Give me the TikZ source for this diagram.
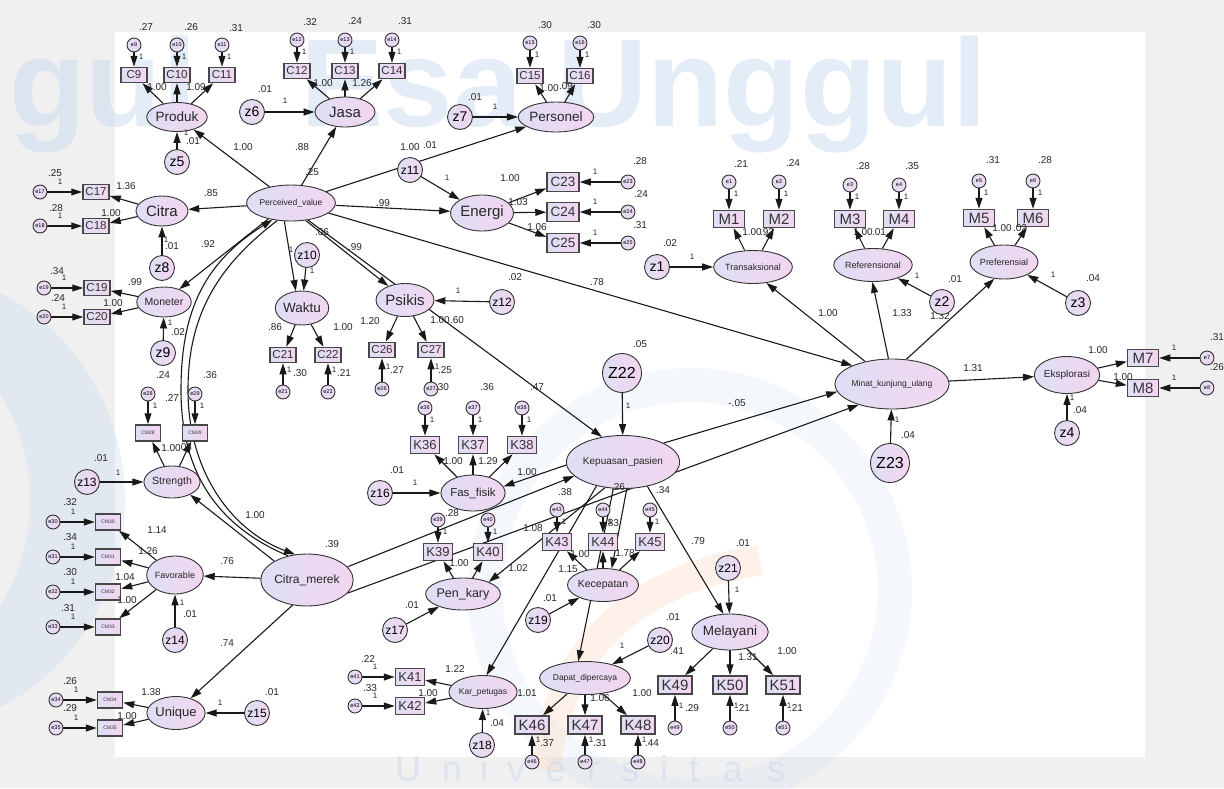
\documentclass[tikz,border=0pt]{standalone}
\usepackage{fontspec}
\setmainfont{Liberation Sans}
\usetikzlibrary{shapes.geometric,arrows.meta}
\pgfdeclarelayer{bgl}
\pgfdeclarelayer{edges}
\pgfsetlayers{bgl,edges,main}
\definecolor{latL}{RGB}{222,222,244}
\definecolor{latR}{RGB}{243,214,240}
\definecolor{paper}{RGB}{240,240,240}
\definecolor{wmblue}{RGB}{196,214,238}
\definecolor{wmorange}{RGB}{250,222,200}
\begin{document}
\begin{tikzpicture}[x=1pt,y=-1pt,
  lat/.style={ellipse, draw=black!80, line width=0.9pt, left color=latL, right color=latR, inner sep=0pt, text=black!85},
  obs/.style={rectangle, draw=black!72, line width=1.5pt, left color=latL, right color=latR, inner sep=0pt, text=black!80},
  cbox/.style={obs, minimum width=26pt, minimum height=15pt, font=\fontsize{11.5}{11.5}\selectfont},
  ebox/.style={obs, minimum width=32pt, minimum height=19pt, font=\fontsize{13.5}{13.5}\selectfont},
  kbox/.style={obs, minimum width=29pt, minimum height=17pt, font=\fontsize{13}{13}\selectfont},
  mbox/.style={obs, minimum width=31pt, minimum height=17pt, font=\fontsize{15}{15}\selectfont},
  bbox/.style={obs, minimum width=34pt, minimum height=18pt, font=\fontsize{15}{15}\selectfont},
  cmbox/.style={obs, minimum width=25pt, minimum height=16pt, font=\fontsize{5}{5}\selectfont},
  err/.style={circle, draw=black!80, line width=0.9pt, left color=latL, right color=latR, inner sep=0pt, minimum size=14pt, font=\fontsize{5.5}{5.5}\selectfont},
  dst/.style={circle, draw=black!80, line width=0.9pt, left color=latL, right color=latR, inner sep=0pt, minimum size=25pt, font=\fontsize{14}{14}\selectfont},
  dst3/.style={dst, font=\fontsize{12}{12}\selectfont},
  big/.style={dst, minimum size=39pt, font=\fontsize{16}{16}\selectfont},
  val/.style={inner sep=0pt, font=\fontsize{10}{10}\selectfont, text=black!85},
  one/.style={inner sep=0pt, font=\fontsize{8}{8}\selectfont, text=black!85},
  pth/.style={draw=black!90, line width=1.1pt, -{Triangle[length=11pt,width=7pt]}},
  wm/.style={inner sep=0pt, text=wmblue, opacity=0.45}
]
\useasboundingbox (0,0) rectangle (1224,788);

% ---------- page and watermark ----------
\begin{pgfonlayer}{bgl}
  \fill[paper] (0,0) rectangle (1224,788);
  \fill[white] (115,32) rectangle (1145,757);
  \begin{scope}
    \clip (0,0) rectangle (1224,788);
    \fill[wmblue, opacity=0.3] (-110,500) circle (235);
    \fill[paper] (-170,500) circle (200);
    \draw[wmblue, opacity=0.18, line width=34pt] (690,590) circle (205);
    \draw[wmorange, opacity=0.4, line width=30pt] (545,770) .. controls (560,640) and (640,580) .. (760,560);
  \end{scope}
  \node[wm, anchor=base west, font=\fontsize{125}{125}\bfseries\selectfont] (wmA) at (300,126) {Esa Unggul};
  \node[wm, anchor=base east, font=\fontsize{125}{125}\bfseries\selectfont] (wmB) at (197,126) {gul};
  \foreach \c/\x [count=\i] in {U/408,n/452,i/484,v/516,e/556,r/593,s/630,i/664,t/694,a/733,s/776}
    \node[wm, anchor=base, font=\fontsize{36}{36}\selectfont] (wu\i) at (\x,781) {\c};
\end{pgfonlayer}

% ---------- latent variables ----------
\node[lat, minimum width=78pt, minimum height=36pt, font=\fontsize{8.5}{8.5}\selectfont] (PV) at (291,203) {Perceived\_value};
\node[lat, minimum width=53pt, minimum height=29pt, font=\fontsize{13.5}{13.5}\selectfont] (Produk) at (177,117) {Produk};
\node[lat, minimum width=60pt, minimum height=30pt, font=\fontsize{15}{15}\selectfont] (Jasa) at (345,112) {Jasa};
\node[lat, minimum width=62pt, minimum height=30pt, font=\fontsize{13.5}{13.5}\selectfont] (Personel) at (556,117) {Personel};
\node[lat, minimum width=52pt, minimum height=30pt, font=\fontsize{15}{15}\selectfont] (Citra) at (162,211) {Citra};
\node[lat, minimum width=48pt, minimum height=30pt, font=\fontsize{10.5}{10.5}\selectfont] (Moneter) at (164,302) {Moneter};
\node[lat, minimum width=63pt, minimum height=36pt, font=\fontsize{15}{15}\selectfont] (Energi) at (482,213) {Energi};
\node[lat, minimum width=53pt, minimum height=34pt, font=\fontsize{13.5}{13.5}\selectfont] (Waktu) at (302,308) {Waktu};
\node[lat, minimum width=58pt, minimum height=33pt, font=\fontsize{15}{15}\selectfont] (Psikis) at (405,300) {Psikis};
\node[lat, minimum width=54pt, minimum height=32pt, font=\fontsize{10.5}{10.5}\selectfont] (Strength) at (172,482) {Strength};
\node[lat, minimum width=78pt, minimum height=52pt, font=\fontsize{12}{12}\selectfont] (CitraM) at (307,580) {Citra\_merek};
\node[lat, minimum width=48pt, minimum height=38pt, font=\fontsize{9}{9}\selectfont] (Favorable) at (175,575) {Favorable};
\node[lat, minimum width=48pt, minimum height=33pt, font=\fontsize{13}{13}\selectfont] (Unique) at (176,713) {Unique};
\node[lat, minimum width=95pt, minimum height=53pt, font=\fontsize{10}{10}\selectfont] (Kep) at (623,462) {Kepuasan\_pasien};
\node[lat, minimum width=58pt, minimum height=36pt, font=\fontsize{11.5}{11.5}\selectfont] (FasF) at (473,493) {Fas\_fisik};
\node[lat, minimum width=62pt, minimum height=32pt, font=\fontsize{12.5}{12.5}\selectfont] (PenK) at (463,594) {Pen\_kary};
\node[lat, minimum width=58pt, minimum height=33pt, font=\fontsize{10.5}{10.5}\selectfont] (Kec) at (603,585) {Kecepatan};
\node[lat, minimum width=57pt, minimum height=33pt, font=\fontsize{8.5}{8.5}\selectfont] (KarP) at (483,692) {Kar\_petugas};
\node[lat, minimum width=68pt, minimum height=33pt, font=\fontsize{8.5}{8.5}\selectfont] (Dapat) at (585,678) {Dapat\_dipercaya};
\node[lat, minimum width=70pt, minimum height=36pt, font=\fontsize{13.5}{13.5}\selectfont] (Melayani) at (730,632) {Melayani};
\node[lat, minimum width=95pt, minimum height=50pt, font=\fontsize{8.5}{8.5}\selectfont] (Minat) at (892,384) {Minat\_kunjung\_ulang};
\node[lat, minimum width=63pt, minimum height=33pt, font=\fontsize{9}{9}\selectfont] (Trans) at (753,267) {Transaksional};
\node[lat, minimum width=63pt, minimum height=33pt, font=\fontsize{9}{9}\selectfont] (Ref) at (873,265) {Referensional};
\node[lat, minimum width=60pt, minimum height=34pt, font=\fontsize{9}{9}\selectfont] (Pref) at (1004,262) {Preferensial};
\node[lat, minimum width=57pt, minimum height=37pt, font=\fontsize{10}{10}\selectfont] (Eks) at (1067,375) {Eksplorasi};

% ---------- indicators and their error terms ----------
\foreach \n/\x in {9/134,10/177,11/222} {\node[cbox] (C\n) at (\x,75) {C\n}; \node[err] (e\n) at (\x,45) {e\n};}
\foreach \n/\x in {12/297,13/345,14/392} {\node[cbox] (C\n) at (\x,71) {C\n}; \node[err] (e\n) at (\x,40) {e\n};}
\foreach \n/\x in {15/530,16/580} {\node[cbox] (C\n) at (\x,76) {C\n}; \node[err] (e\n) at (\x,43) {e\n};}
\foreach \n/\y in {17/192,18/226} {\node[cbox] (C\n) at (96,\y) {C\n}; \node[err] (e\n) at (40,\y) {e\n};}
\foreach \n/\y in {19/288,20/317} {\node[cbox] (C\n) at (97,\y) {C\n}; \node[err] (e\n) at (44,\y) {e\n};}
\foreach \n/\x in {21/283,22/328} {\node[cbox] (C\n) at (\x,355) {C\n}; \node[err] (e\n) at (\x,392) {e\n};}
\foreach \n/\y in {23/182,24/212,25/243} {\node[ebox] (C\n) at (563,\y) {C\n}; \node[err] (e\n) at (628,\y) {e\n};}
\foreach \n/\x in {26/382,27/431} {\node[cbox] (C\n) at (\x,350) {C\n}; \node[err] (e\n) at (\x,389) {e\n};}
\foreach \n/\x in {28/148,29/195} {\node[cmbox] (CM\n) at (\x,433) {CM\n}; \node[err] (e\n) at (\x,394) {e\n};}
\foreach \n/\y in {30/522,31/557,32/592,33/627} {\node[cmbox] (CM\n) at (108,\y) {CM\n}; \node[err] (e\n) at (53,\y) {e\n};}
\foreach \n/\y in {34/700,35/728} {\node[cmbox] (CM\n) at (110,\y) {CM\n}; \node[err] (e\n) at (56,\y) {e\n};}
\foreach \n/\x in {36/425,37/473,38/522} {\node[kbox] (K\n) at (\x,445) {K\n}; \node[err] (e\n) at (\x,408) {e\n};}
\foreach \n/\x in {39/438,40/488} {\node[kbox] (K\n) at (\x,552) {K\n}; \node[err] (e\n) at (\x,520) {e\n};}
\foreach \n/\y in {41/677,42/706} {\node[kbox] (K\n) at (410,\y) {K\n}; \node[err] (e\n) at (355,\y) {e\n};}
\foreach \n/\x in {43/557,44/603,45/650} {\node[kbox] (K\n) at (\x,542) {K\n}; \node[err] (e\n) at (\x,510) {e\n};}
\foreach \n/\x in {46/532,47/585,48/638} {\node[bbox] (K\n) at (\x,725) {K\n}; \node[err] (e\n) at (\x,762) {e\n};}
\foreach \n/\x in {49/675,50/730,51/783} {\node[bbox] (K\n) at (\x,685) {K\n}; \node[err] (e\n) at (\x,728) {e\n};}
\foreach \n/\x in {1/729,2/779} {\node[mbox] (M\n) at (\x,219) {M\n}; \node[err] (e\n) at (\x,182) {e\n};}
\foreach \n/\x in {3/850,4/899} {\node[mbox] (M\n) at (\x,219) {M\n}; \node[err] (e\n) at (\x,185) {e\n};}
\foreach \n/\x in {5/979,6/1033} {\node[mbox] (M\n) at (\x,218) {M\n}; \node[err] (e\n) at (\x,181) {e\n};}
\foreach \n/\y in {7/358,8/388} {\node[mbox] (M\n) at (1143,\y) {M\n}; \node[err] (e\n) at (1207,\y) {e\n};}

% ---------- disturbances ----------
\foreach \n/\x/\y in {z1/657/267, z2/942/302, z3/1078/303, z4/1067/433, z5/177/162, z6/252/112, z7/460/117, z8/162/268, z9/163/353}
  \node[dst] (\n) at (\x,\y) {\n};
\foreach \n/\x/\y in {z10/307/255, z11/410/170, z12/502/302, z13/87/482, z14/175/640, z15/257/713, z16/380/493, z17/395/630, z18/482/745, z19/538/620, z20/660/640, z21/728/568}
  \node[dst3] (\n) at (\x,\y) {\n};
\node[big] (Z22) at (622,373) {Z22};
\node[big] (Z23) at (890,463) {Z23};

% ---------- connectors ----------
\begin{pgfonlayer}{edges}
  % error terms to indicators
  \foreach \n in {9,...,27} \draw[pth] (e\n) -- (C\n);
  \foreach \n in {28,...,35} \draw[pth] (e\n) -- (CM\n);
  \foreach \n in {36,...,51} \draw[pth] (e\n) -- (K\n);
  \foreach \n in {1,...,8} \draw[pth] (e\n) -- (M\n);
  % factor loadings
  \foreach \n in {9,10,11} \draw[pth] (Produk) -- (C\n);
  \foreach \n in {12,13,14} \draw[pth] (Jasa) -- (C\n);
  \foreach \n in {15,16} \draw[pth] (Personel) -- (C\n);
  \foreach \n in {17,18} \draw[pth] (Citra) -- (C\n);
  \foreach \n in {19,20} \draw[pth] (Moneter) -- (C\n);
  \foreach \n in {21,22} \draw[pth] (Waktu) -- (C\n);
  \foreach \n in {23,24,25} \draw[pth] (Energi) -- (C\n);
  \foreach \n in {26,27} \draw[pth] (Psikis) -- (C\n);
  \foreach \n in {28,29} \draw[pth] (Strength) -- (CM\n);
  \foreach \n in {30,...,33} \draw[pth] (Favorable) -- (CM\n);
  \foreach \n in {34,35} \draw[pth] (Unique) -- (CM\n);
  \foreach \n in {36,37,38} \draw[pth] (FasF) -- (K\n);
  \foreach \n in {39,40} \draw[pth] (PenK) -- (K\n);
  \foreach \n in {41,42} \draw[pth] (KarP) -- (K\n);
  \foreach \n in {43,44,45} \draw[pth] (Kec) -- (K\n);
  \foreach \n in {46,47,48} \draw[pth] (Dapat) -- (K\n);
  \foreach \n in {49,50,51} \draw[pth] (Melayani) -- (K\n);
  \foreach \n in {1,2} \draw[pth] (Trans) -- (M\n);
  \foreach \n in {3,4} \draw[pth] (Ref) -- (M\n);
  \foreach \n in {5,6} \draw[pth] (Pref) -- (M\n);
  \foreach \n in {7,8} \draw[pth] (Eks) -- (M\n);
  % disturbances
  \foreach \z/\l in {z5/Produk, z6/Jasa, z7/Personel, z8/Citra, z9/Moneter, z10/Waktu, z11/Energi, z12/Psikis, z13/Strength, z14/Favorable, z15/Unique, z16/FasF, z17/PenK, z18/KarP, z19/Kec, z20/Dapat, z21/Melayani, Z22/Kep, Z23/Minat, z1/Trans, z2/Ref, z3/Pref, z4/Eks}
    \draw[pth] (\z) -- (\l);
  % Perceived value dimensions
  \draw[pth] (PV) -- (Produk);
  \draw[pth] (PV) -- (Jasa);
  \draw[pth] (PV) -- (Personel);
  \draw[pth] (PV) -- (Citra);
  \draw[pth] (PV.215) -- (Moneter.40);
  \draw[pth] (PV) -- (Energi);
  \draw[pth] (PV.250) -- (Waktu.110);
  \draw[pth] (PV.-50) -- (Psikis.140);
  % brand image dimensions
  \draw[pth] (CitraM.150) -- (Strength.-35);
  \draw[pth] (CitraM) -- (Favorable);
  \draw[pth] (CitraM.-120) -- (Unique.45);
  % satisfaction dimensions
  \draw[pth] (Kep.183) -- (FasF.12);
  \draw[pth] (Kep.235) -- (PenK.25);
  \draw[pth] (Kep.-82) -- (Kec.62);
  \draw[pth] (Kep.222) -- (KarP.78);
  \draw[pth] (Kep.250) -- (Dapat.112);
  \draw[pth] (Kep.-45) -- (Melayani.110);
  % revisit intention dimensions
  \draw[pth] (Minat.140) -- (Trans.-50);
  \draw[pth] (Minat.98) -- (Ref.-92);
  \draw[pth] (Minat.60) -- (Pref.-120);
  \draw[pth] (Minat) -- (Eks);
  % structural paths
  \draw[pth] (PV.-45) -- (Kep.130);
  \draw[pth] (PV.-15) -- (Minat.155);
  \draw[pth] (CitraM.18) -- (Kep.196);
  \draw[pth] (CitraM.-18) -- (Minat.212);
  \draw[pth] (Kep.25) -- (Minat.188);
  % covariance between the exogenous constructs
  \draw[pth] (CitraM.128) .. controls (215,525) and (181,470) .. (181,390) .. controls (181,310) and (205,262) .. (PV.222);
  \draw[pth] (PV.232) .. controls (215,268) and (188,318) .. (188,390) .. controls (188,470) and (230,530) .. (CitraM.115);
  \node[val] (hid) at (940,316) {1.32};
\end{pgfonlayer}

% ---------- estimates ----------
\foreach \t/\x/\y [count=\i] in {.27/146/27, .26/191/27, .31/236/28, 1.00/157/87, 1.09/196/87, .01/193/141, 1.00/243/147, .88/302/147, .25/312/172, .85/211/193, .92/208/244, .32/310/22, .24/355/21, .31/405/21, 1.00/323/83, 1.26/362/83, .01/265/89, .30/545/25, .30/594/25, 1.00/549/88, .09/566/86, .01/475/97, 1.00/410/147, .01/430/145, 1.00/510/178, 1.03/518/202, 1.06/537/227, .28/640/161, .24/641/194, .31/640/225, .99/383/203, .06/322/232, .99/355/247, .02/515/277, .78/597/282, .25/55/173, .28/56/208, 1.36/126/186, 1.00/111/213, .01/172/246, .34/57/271, .24/58/298, .99/135/282, 1.00/113/303, .02/178/332, .86/275/327, 1.00/343/327, .30/300/373, .21/344/373, 1.20/370/321, 1.00/440/320, .60/457/320, .27/397/370, .25/445/370, .24/163/375, .36/210/375, .27/172/398, 1.00/171/448, .03/185/447, .01/101/458, 1.00/255/515, .39/332/544}
  \node[val] (va\i) at (\x,\y) {\t};
\foreach \t/\x/\y [count=\i] in {.32/70/502, .34/70/537, .30/70/572, .31/68/608, 1.14/157/530, 1.26/148/551, 1.04/125/577, 1.00/127/600, .76/227/561, .01/190/614, .74/227/643, .26/70/681, .29/70/708, 1.38/151/692, 1.00/127/716, .01/272/692, .30/442/387, .36/487/387, .47/537/387, .01/397/470, 1.00/453/461, 1.29/488/461, 1.00/527/472, .28/452/513, 1.00/459/563, .01/412/605, 1.02/518/568, .38/565/492, .83/612/523, .26/618/487, 1.08/533/528, 1.00/580/554, 1.78/625/553, 1.15/568/569, .01/550/598, .05/640/344, -.05/737/403, .34/663/490, .79/698/541}
  \node[val] (vb\i) at (\x,\y) {\t};
\foreach \t/\x/\y [count=\i] in {.22/368/659, .33/370/688, 1.22/455/669, 1.00/428/693, .04/497/723, 1.01/527/693, 1.06/600/698, 1.00/642/693, .37/547/743, .31/600/743, .44/652/743, .01/673/617, .41/677/651, 1.31/748/657, 1.00/787/651, .29/692/708, .21/743/708, .21/796/708, .01/743/543, .21/741/164, .24/793/163, 1.00/752/232, .92/767/232, .02/670/243, 1.00/828/313, .28/863/166, .35/912/166, 1.00/863/232, .01/879/232, .01/955/279, 1.33/902/313, .31/993/160, .28/1045/160, 1.00/1002/228, .02/1020/228, .04/1093/278, 1.31/973/368, .04/908/435, 1.00/1098/350, 1.00/1123/377, .31/1217/337, .26/1217/367, .04/1080/410}
  \node[val] (vc\i) at (\x,\y) {\t};

% fixed regression weights
\foreach \x/\y [count=\i] in {186/133, 285/101, 495/107, 447/178, 166/240, 170/323, 291/250, 312/271, 458/291, 118/473, 182/603, 220/703, 415/483, 488/713, 622/646, 737/590, 692/257, 917/276, 1053/275, 897/420, 1072/398, 628/406}
  \node[one] (oa\i) at (\x,\y) {1};
\foreach \x/\y [count=\i] in {134/45, 177/45, 222/45, 297/40, 345/40, 392/40, 530/43, 580/43, 148/394, 195/394, 425/408, 473/408, 522/408, 438/520, 488/520, 557/510, 603/510, 650/510, 729/182, 779/182, 850/185, 899/185, 979/181, 1033/181}
  \node[one] (ob\i) at (\x+7,\y+12) {1};
\foreach \x/\y [count=\i] in {283/392, 328/392, 382/389, 431/389, 532/762, 585/762, 638/762, 675/728, 730/728, 783/728}
  \node[one] (oc\i) at (\x+6,\y-22) {1};
\foreach \x/\y [count=\i] in {40/192, 40/226, 44/288, 44/317, 53/522, 53/557, 53/592, 53/627, 56/700, 56/728, 355/677, 355/706}
  \node[one] (od\i) at (\x+20,\y-10) {1};
\foreach \x/\y [count=\i] in {628/182, 628/212, 628/243, 1207/358, 1207/388}
  \node[one] (oe\i) at (\x-33,\y-10) {1};
\end{tikzpicture}
\end{document}
